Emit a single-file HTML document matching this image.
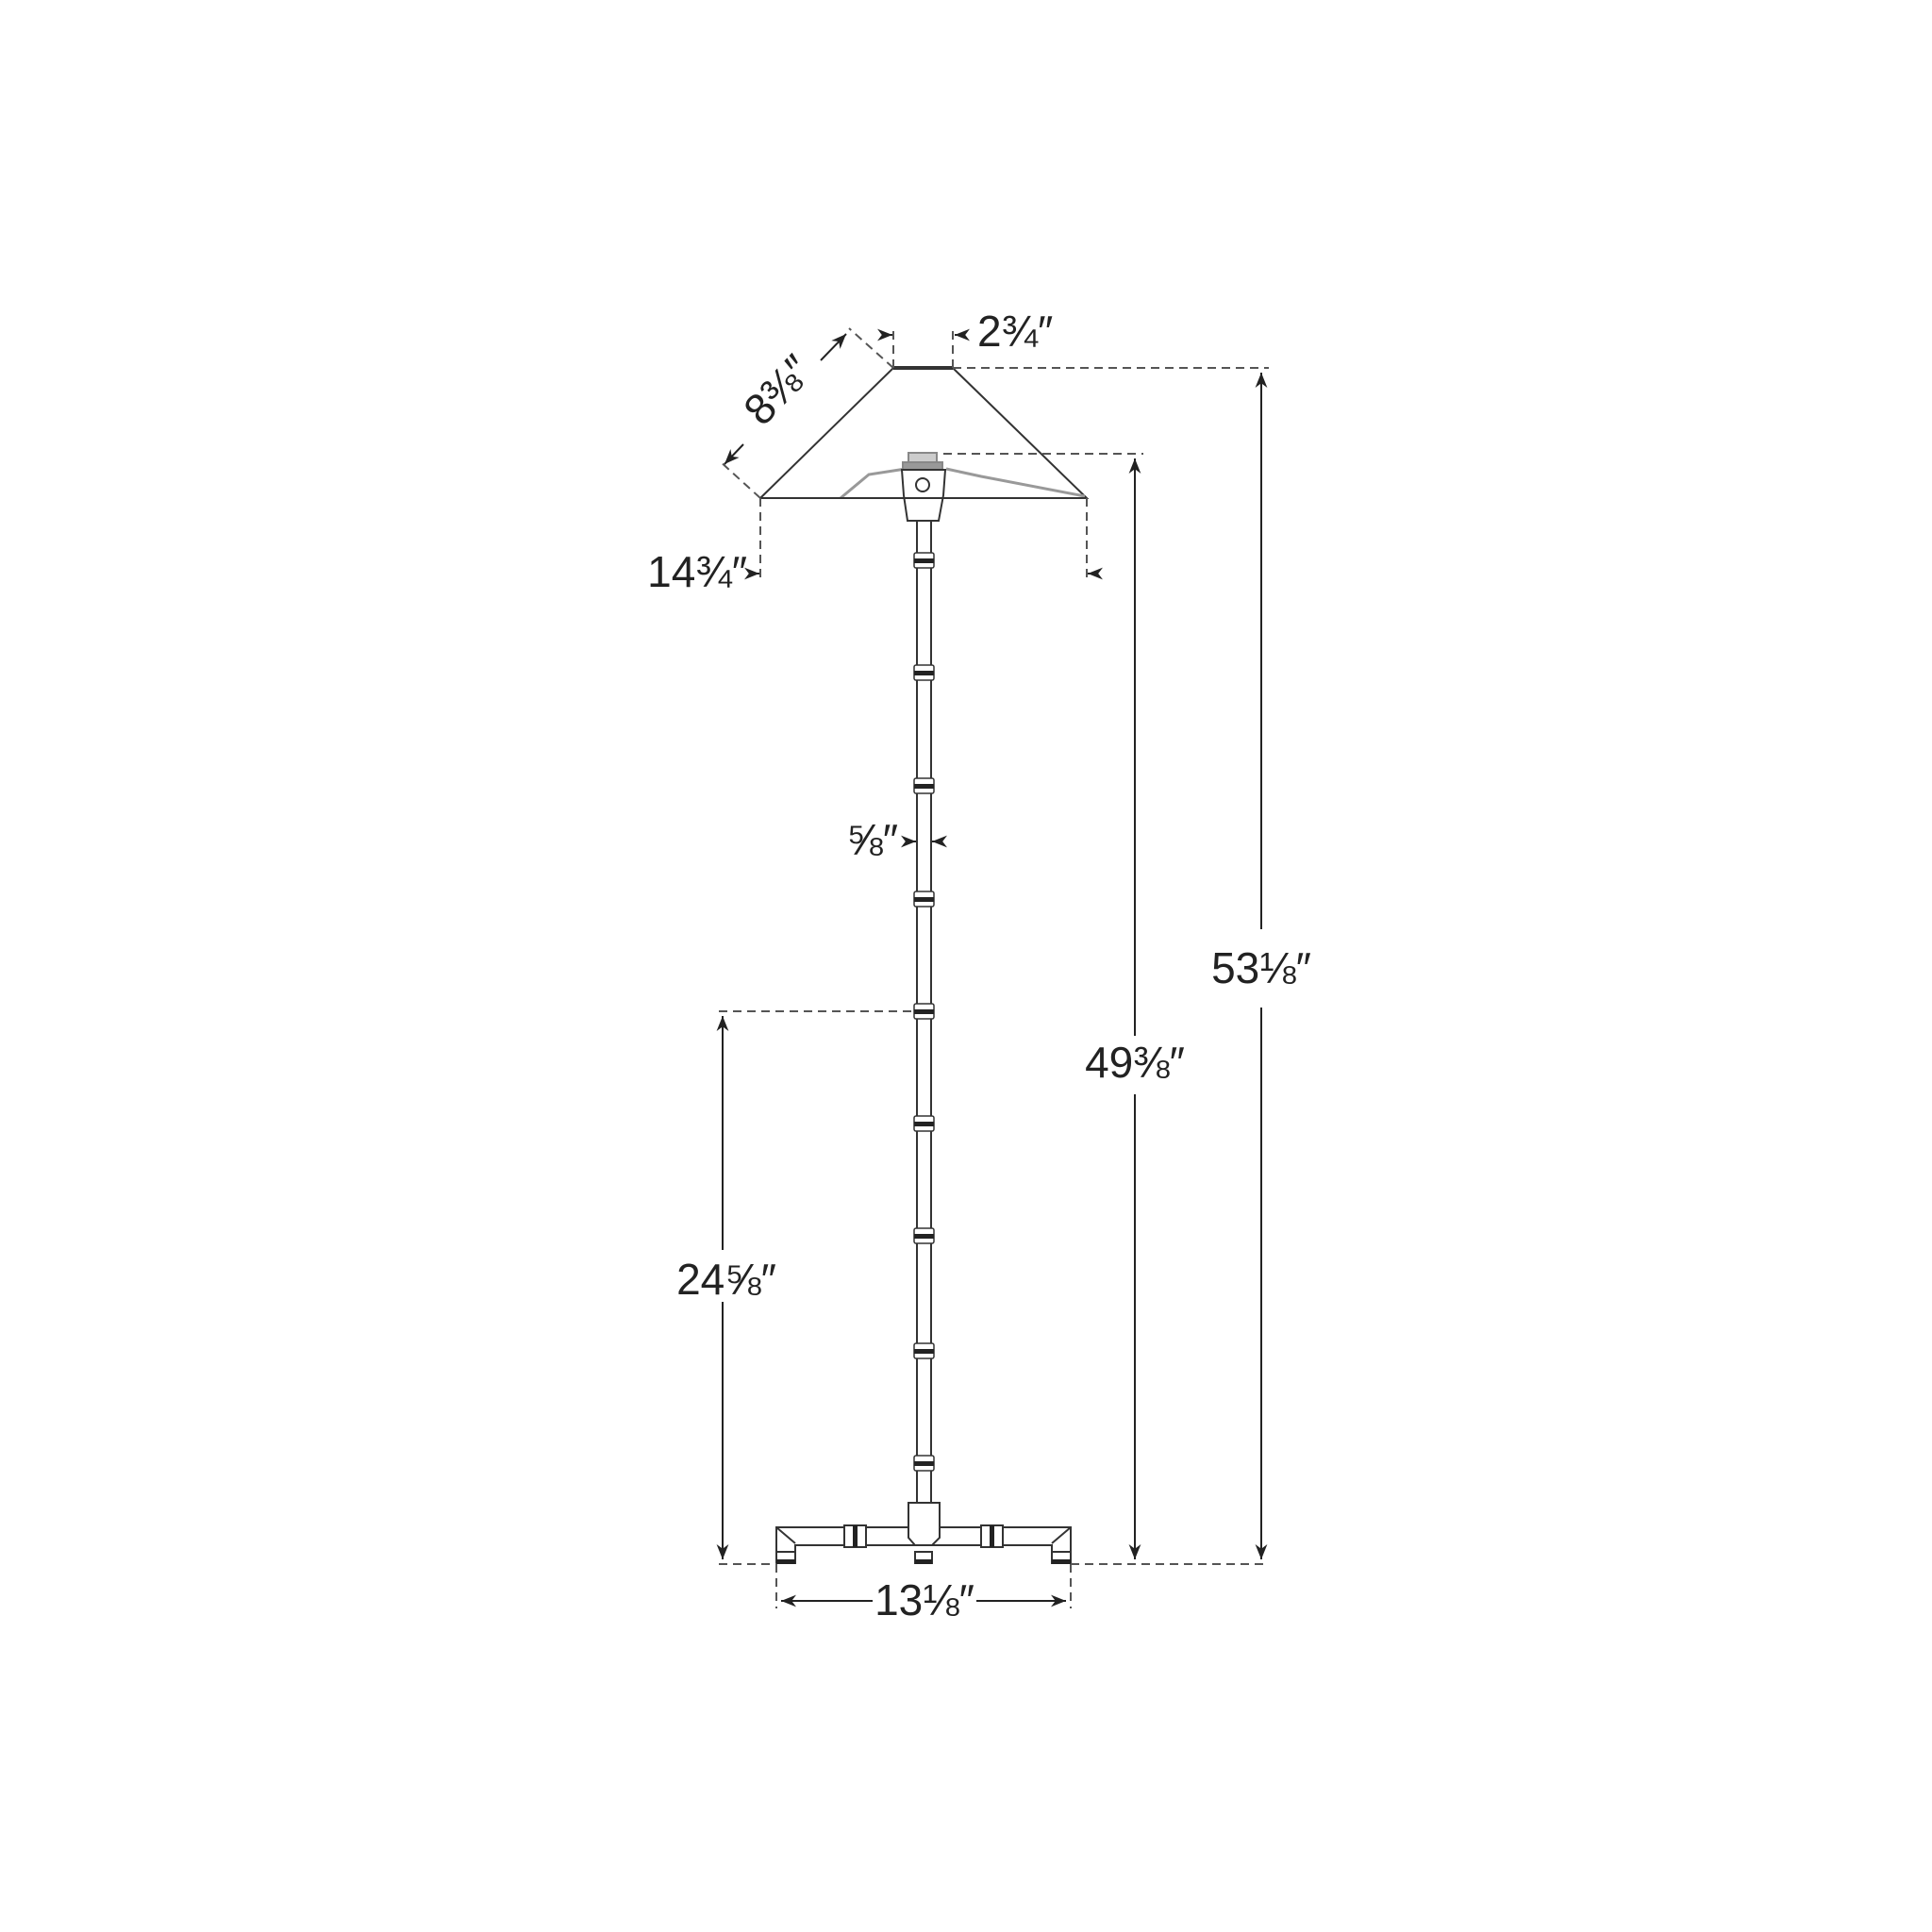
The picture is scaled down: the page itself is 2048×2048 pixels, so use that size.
<!DOCTYPE html>
<html><head><meta charset="utf-8"><style>
html,body{margin:0;padding:0;background:#fff}
svg{display:block}
text{font-family:"Liberation Sans",sans-serif;fill:#222;font-size:46px}
</style></head><body>
<svg width="2048" height="2048" viewBox="0 0 2048 2048" xmlns="http://www.w3.org/2000/svg">
<defs>
<marker id="a" viewBox="0 0 10 10" refX="10" refY="5" markerWidth="8" markerHeight="8" orient="auto-start-reverse"><path d="M0,1 L10,5 L0,9 L3,5 z" fill="#222"/></marker>
</defs>
<g stroke="#333" fill="none" stroke-width="2">
<!-- shade -->
<polyline points="806,528 947,390 1010,390 1152,528 806,528"/>
<line x1="947" y1="390" x2="1010" y2="390" stroke-width="4"/>
<!-- inner shade -->
<polyline points="891,528 921,503 960,497" stroke="#999" stroke-width="3"/>
<polyline points="1003,497 1040,505 1150,526" stroke="#999" stroke-width="3"/>
<!-- socket -->
<rect x="963" y="480" width="30" height="11" fill="#ccc" stroke="#888"/>
<rect x="957" y="490" width="42" height="8" fill="#999" stroke="#888"/>
<path d="M956,498 L1002,498 L1000,525 L995,552 L962,552 L958,525 Z" fill="#fff"/>
<circle cx="978" cy="514" r="7"/>
<line x1="806" y1="528" x2="1152" y2="528"/>
<!-- stem -->
<line x1="972" y1="552" x2="972" y2="1593"/>
<line x1="987" y1="552" x2="987" y2="1593"/>
</g>
<g fill="#fff" stroke="#333" stroke-width="1.5">
<rect x="969" y="586" width="21" height="16" rx="2"/>
<rect x="969" y="705" width="21" height="16" rx="2"/>
<rect x="969" y="825" width="21" height="16" rx="2"/>
<rect x="969" y="945" width="21" height="16" rx="2"/>
<rect x="969" y="1064" width="21" height="16" rx="2"/>
<rect x="969" y="1183" width="21" height="16" rx="2"/>
<rect x="969" y="1302" width="21" height="16" rx="2"/>
<rect x="969" y="1424" width="21" height="16" rx="2"/>
<rect x="969" y="1543" width="21" height="16" rx="2"/>
</g>
<g fill="#222">
<rect x="969" y="592" width="21" height="5"/>
<rect x="969" y="711" width="21" height="5"/>
<rect x="969" y="831" width="21" height="5"/>
<rect x="969" y="951" width="21" height="5"/>
<rect x="969" y="1070" width="21" height="5"/>
<rect x="969" y="1189" width="21" height="5"/>
<rect x="969" y="1308" width="21" height="5"/>
<rect x="969" y="1430" width="21" height="5"/>
<rect x="969" y="1549" width="21" height="5"/>
</g>
<!-- base -->
<g stroke="#333" fill="#fff" stroke-width="2">
<path d="M823,1619 L1135,1619 L1135,1645 L1115,1645 L1115,1638 L843,1638 L843,1645 L823,1645 Z"/>
<line x1="823" y1="1619" x2="843" y2="1636"/>
<line x1="1135" y1="1619" x2="1115" y2="1636"/>
<rect x="895" y="1617" width="23" height="23"/>
<rect x="1040" y="1617" width="23" height="23"/>
<path d="M963,1593 L996,1593 L996,1630 L988,1638 L970,1638 L963,1630 Z"/>
<rect x="823" y="1645" width="20" height="12"/>
<rect x="970" y="1645" width="18" height="12"/>
<rect x="1115" y="1645" width="20" height="12"/>
</g>
<g fill="#222">
<rect x="904" y="1617" width="5" height="23"/><rect x="1049" y="1617" width="5" height="23"/>
<rect x="823" y="1653" width="20" height="5"/><rect x="970" y="1653" width="18" height="5"/><rect x="1115" y="1653" width="20" height="5"/>
</g>
<!-- dashed -->
<g stroke="#555" stroke-width="2" stroke-dasharray="9,6" fill="none">
<line x1="1010" y1="390" x2="1345" y2="390"/>
<line x1="1000" y1="481" x2="1212" y2="481"/>
<line x1="762" y1="1072" x2="972" y2="1072"/>
<line x1="762" y1="1658" x2="823" y2="1658"/>
<line x1="1135" y1="1658" x2="1345" y2="1658"/>
<line x1="823" y1="1658" x2="823" y2="1705"/>
<line x1="1135" y1="1658" x2="1135" y2="1705"/>
<line x1="947" y1="390" x2="947" y2="345"/>
<line x1="1010" y1="390" x2="1010" y2="345"/>
<line x1="806" y1="528" x2="806" y2="615"/>
<line x1="1152" y1="528" x2="1152" y2="615"/>
<line x1="947" y1="390" x2="900" y2="348"/>
<line x1="806" y1="528" x2="762" y2="488"/>
</g>
<!-- dimension arrows -->
<g stroke="#222" stroke-width="2" fill="none">
<line x1="1337" y1="395" x2="1337" y2="985" marker-start="url(#a)"/>
<line x1="1337" y1="1068" x2="1337" y2="1653" marker-end="url(#a)"/>
<line x1="1203" y1="486" x2="1203" y2="1098" marker-start="url(#a)"/>
<line x1="1203" y1="1160" x2="1203" y2="1653" marker-end="url(#a)"/>
<line x1="766" y1="1077" x2="766" y2="1325" marker-start="url(#a)"/>
<line x1="766" y1="1380" x2="766" y2="1653" marker-end="url(#a)"/>
<line x1="828" y1="1697" x2="925" y2="1697" marker-start="url(#a)"/>
<line x1="1035" y1="1697" x2="1130" y2="1697" marker-end="url(#a)"/>
<line x1="936" y1="355" x2="946" y2="355" marker-end="url(#a)"/>
<line x1="1022" y1="355" x2="1012" y2="355" marker-end="url(#a)"/>
<line x1="795" y1="608" x2="805" y2="608" marker-end="url(#a)"/>
<line x1="1163" y1="608" x2="1153" y2="608" marker-end="url(#a)"/>
<line x1="960" y1="892" x2="971" y2="892" marker-end="url(#a)"/>
<line x1="999" y1="892" x2="988" y2="892" marker-end="url(#a)"/>
<line x1="768" y1="492" x2="788" y2="471" marker-start="url(#a)"/>
<line x1="870" y1="382" x2="897" y2="354" marker-end="url(#a)"/>
</g>
<!-- labels -->
<text x="1337" y="1042" text-anchor="middle">53⅛″</text>
<text x="1203" y="1142" text-anchor="middle">49⅜″</text>
<text x="770" y="1372" text-anchor="middle">24⅝″</text>
<text x="980" y="1712" text-anchor="middle">13⅛″</text>
<text x="1036" y="367">2¾″</text>
<text x="792" y="622" text-anchor="end">14¾″</text>
<text x="952" y="906" text-anchor="end" font-size="38">⅝″</text>
<text transform="translate(836,424) rotate(-47)" text-anchor="middle">8⅜″</text>
</svg>
</body></html>
